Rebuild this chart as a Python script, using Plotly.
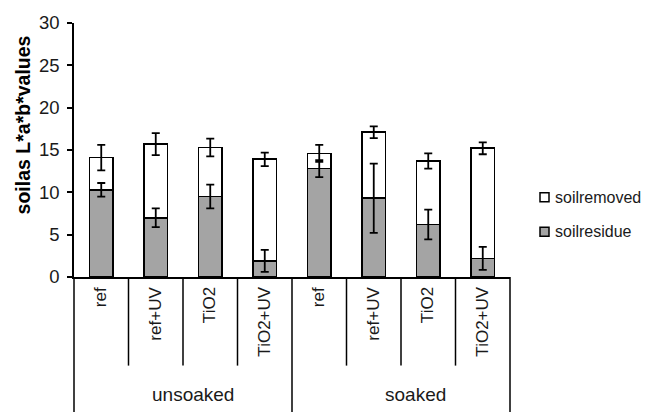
import plotly.graph_objects as go

# Treatments within each soaking condition
treatments = ["ref", "ref+UV", "TiO2", "TiO2+UV", "ref", "ref+UV", "TiO2", "TiO2+UV"]
groups = ["unsoaked", "soaked"]

# Soil residue (lower segment) and soil removed (upper segment), L*a*b* units
soil_residue = [10.3, 7.0, 9.5, 1.9, 12.8, 9.3, 6.2, 2.2]
soil_removed = [3.8, 8.7, 5.8, 12.0, 1.8, 7.8, 7.5, 13.0]
residue_err = [0.8, 1.1, 1.4, 1.3, 1.0, 4.1, 1.75, 1.35]
total_err = [1.5, 1.3, 1.05, 0.8, 1.0, 0.7, 0.9, 0.7]

series_names = ["soilresidue", "soilremoved"]
yticks = [0, 5, 10, 15, 20, 25, 30]

FONT = "Liberation Sans, Arial, sans-serif"
GREY = "#a4a4a4"
x = list(range(len(treatments)))
n = len(treatments)
totals = [r + m for r, m in zip(soil_residue, soil_removed)]

fig = go.Figure()
fig.add_bar(
    x=x, y=soil_residue, name=series_names[0], width=0.43,
    marker=dict(color=GREY, line=dict(color="black", width=1.7)),
)
fig.add_bar(
    x=x, y=soil_removed, name=series_names[1], width=0.43,
    marker=dict(color="white", line=dict(color="black", width=1.7)),
)

# error bars drawn on top of both stacked segments
err_style = dict(type="data", color="black", thickness=1.8, width=4)
fig.add_scatter(
    x=x, y=soil_residue, mode="markers", marker=dict(size=0.1, opacity=0),
    error_y=dict(array=residue_err, **err_style), hoverinfo="skip",
)
fig.add_scatter(
    x=x, y=totals, mode="markers", marker=dict(size=0.1, opacity=0),
    error_y=dict(array=total_err, **err_style), hoverinfo="skip",
)

# plot area: 74..510 px horizontally, 19..277 px vertically
H_PLOT = 258.0
def py(p):
    """pixel row -> paper y"""
    return (277 - p) / H_PLOT

def px(p):
    """pixel column -> paper x"""
    return (p - 74) / 436.0

shapes = []
# category dividers below the axis
for k in range(n + 1):
    long_line = k % 4 == 0
    shapes.append(dict(
        type="line", xref="x domain", yref="paper",
        x0=k / n, x1=k / n, y0=0, y1=py(414 if long_line else 367),
        line=dict(color="black", width=1.5),
    ))

annotations = []
for i, t in enumerate(treatments):
    annotations.append(dict(
        x=i, y=py(285), xref="x", yref="paper", text=t, showarrow=False,
        textangle=-90, xanchor="center", yanchor="top",
        font=dict(family=FONT, size=17, color="#1a1a1a"),
    ))
for g, gx in zip(groups, [192.5, 415]):
    annotations.append(dict(
        x=px(gx), y=py(396), xref="paper", yref="paper", text=g, showarrow=False,
        xanchor="center", yanchor="middle",
        font=dict(family=FONT, size=19, color="#1a1a1a"),
    ))

# y axis title
annotations.append(dict(
    x=px(23), y=py(123), xref="paper", yref="paper",
    text="<b>soilas L*a*b*values</b>", showarrow=False, textangle=-90,
    xanchor="center", yanchor="middle",
    font=dict(family=FONT, size=19.5, color="black"),
))

# legend: removed on top, residue below
for name, fill, cy in [(series_names[1], "white", 196), (series_names[0], GREY, 231)]:
    shapes.append(dict(
        type="rect", xref="paper", yref="paper",
        x0=px(540), x1=px(549), y0=py(cy - 4.5), y1=py(cy + 4.5),
        fillcolor=fill, line=dict(color="black", width=1.5),
    ))
    annotations.append(dict(
        x=px(553), y=py(cy), xref="paper", yref="paper", text=name,
        showarrow=False, xanchor="left", yanchor="middle",
        font=dict(family=FONT, size=16, color="#1a1a1a"),
    ))

fig.update_layout(
    barmode="stack",
    width=650, height=414,
    margin=dict(l=74, r=140, t=19, b=137),
    paper_bgcolor="white", plot_bgcolor="white",
    showlegend=False,
    shapes=shapes, annotations=annotations,
    xaxis=dict(
        range=[-0.5, n - 0.5], showticklabels=False, ticks="",
        showgrid=False, zeroline=False, showline=True,
        linecolor="black", linewidth=1.5,
    ),
    yaxis=dict(
        range=[0, 30], tickvals=yticks, showgrid=False, zeroline=False,
        showline=True, linecolor="black", linewidth=1.5,
        ticks="outside", ticklen=5, tickwidth=1.5, tickcolor="black",
        ticklabelstandoff=4,
        tickfont=dict(family=FONT, size=18.5, color="#1a1a1a"),
    ),
)

fig.write_html("out.html")
